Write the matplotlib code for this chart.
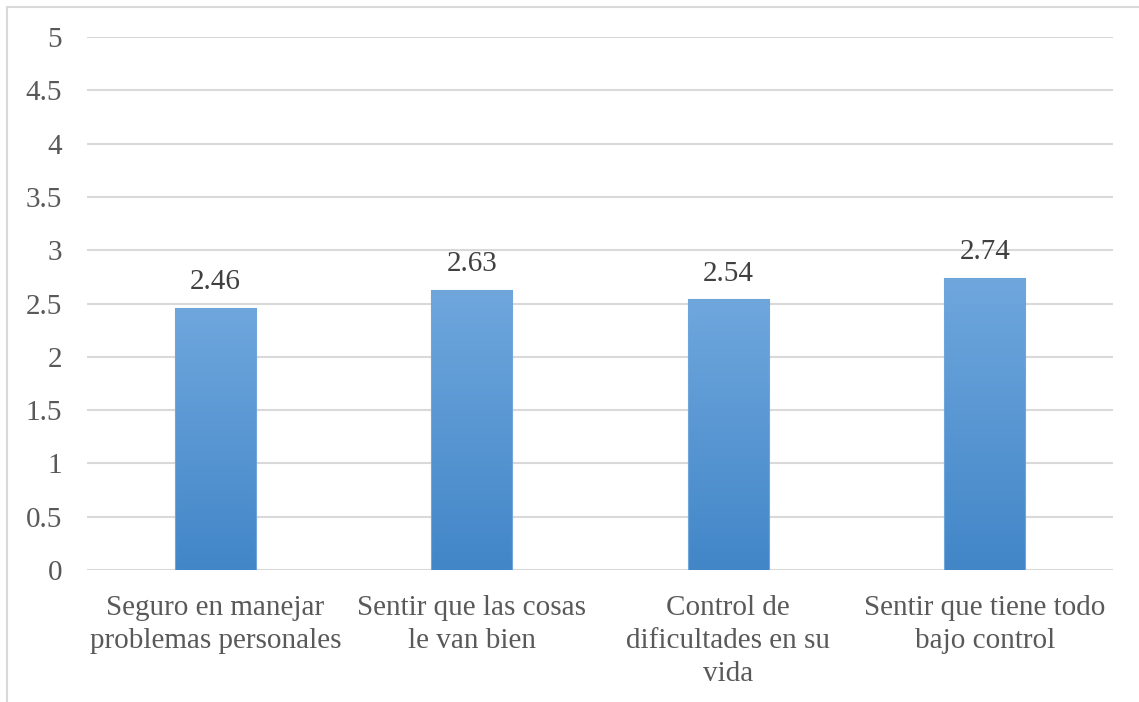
import matplotlib.pyplot as plt
import numpy as np
from matplotlib import font_manager
from matplotlib.colors import LinearSegmentedColormap
from matplotlib.patches import Rectangle

# datos
categorias = ["Seguro en manejar\nproblemas personales",
              "Sentir que las cosas\nle van bien",
              "Control de\ndificultades en su\nvida",
              "Sentir que tiene todo\nbajo control"]
valores = [2.46, 2.63, 2.54, 2.74]
yticks = [0, 0.5, 1, 1.5, 2, 2.5, 3, 3.5, 4, 4.5, 5]

ruta = font_manager.findfont(font_manager.FontProperties(family='Liberation Serif'))
fp = font_manager.FontProperties(fname=ruta, size=21)

fig = plt.figure(figsize=(11.39, 7.02), dpi=100)
ax = fig.add_axes([87/1139, 1-570/702, (1113-87)/1139, (570-37)/702])

x = np.arange(len(valores))
bars = ax.bar(x, valores, width=0.316, color='none', edgecolor='#6ea6dc', linewidth=0.8, zorder=3)

# degradado en cada barra
cmap = LinearSegmentedColormap.from_list("azul", ["#4286c8", "#6fa7dd"])
grad = np.linspace(0, 1, 256).reshape(-1, 1)
for b in bars:
    x0, y0 = b.get_x(), b.get_y()
    w, h = b.get_width(), b.get_height()
    im = ax.imshow(grad, cmap=cmap, origin='lower', aspect='auto',
                   extent=[x0, x0 + w, y0, y0 + h], zorder=2)
    im.set_clip_path(b)

for xi, v in zip(x, valores):
    ax.annotate(f"{v:.2f}", (xi, v), xytext=(0, 9), textcoords='offset points',
                ha='center', va='bottom', fontproperties=fp, color='#404040')

ax.set_xlim(-0.5, len(valores) - 0.5)
ax.set_ylim(0, 5)
ax.set_yticks(yticks)
ax.set_yticklabels([f"{t:g}" for t in yticks], fontproperties=fp, color='#595959')
ax.set_xticks(x)
ax.set_xticklabels(categorias, linespacing=1.36, fontproperties=fp, color='#595959')
ax.tick_params(axis='y', length=0, pad=18)
ax.tick_params(axis='x', length=0, pad=18)
for s in ax.spines.values():
    s.set_visible(False)
ax.grid(axis='y', color='#d9d9d9', linewidth=1.5, zorder=0)
ax.set_axisbelow(True)

# borde del gráfico
fig.patches.append(Rectangle((7/1139, -0.05), 1.2, 1 - 7/702 + 0.05, transform=fig.transFigure,
                             fill=False, edgecolor='#d9d9d9', linewidth=1.5))

fig.savefig("out.png", dpi=100)
